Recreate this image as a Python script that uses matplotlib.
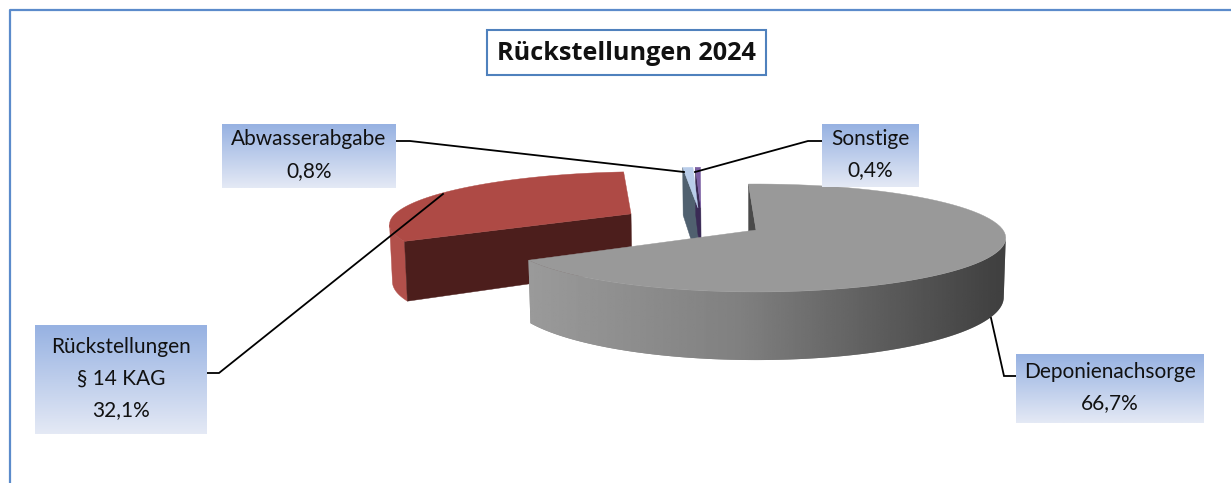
import numpy as np
import matplotlib
matplotlib.use('Agg')
import matplotlib.pyplot as plt
from matplotlib.patches import Rectangle, Polygon

categories = ['Deponienachsorge', 'Rückstellungen\n§ 14 KAG', 'Abwasserabgabe', 'Sonstige']
percent = [66.7, 32.1, 0.8, 0.4]
percent_labels = ['66,7%', '32,1%', '0,8%', '0,4%']
title = 'Rückstellungen 2024'

# offset of every slice on the pie plane (1 = radius)
explode = [(0, 0), (-0.53, 0.32), (-0.25, 0.443), (-0.238, 0.443)]
start_angle = 92
cx, cy = 756, 230
radius = 247
tilt = 52.8
height = 58
persp = 0.148
persp_z = 0.008

label_font = 'Lato'
blue_top = np.array([0x97, 0xb2, 0xe2]) / 255
blue_bot = np.array([0xe4, 0xe9, 0xf5]) / 255


def project(X, Y, Z=0):
    w = 1 + persp * Y
    return cx + radius * X / (w + persp_z * Z), cy - tilt * Y / w + height * Z / w


def arc(off, t0, t1, Z=0, n=80):
    t = np.radians(np.linspace(t0, t1, n))
    return project(off[0] + np.cos(t), off[1] + np.sin(t), Z)


def top_face(off, t0, t1, color, z):
    x, y = arc(off, t0, t1)
    ax0, ay0 = project(off[0], off[1])
    ax.fill(np.r_[ax0, x], np.r_[ay0, y], color=color, lw=0.3, zorder=z)


def cut_face(off, t, color, z):
    xa, ya = project(off[0], off[1])
    xb, yb = project(off[0], off[1], 1)
    x1, y1 = arc(off, t, t, n=1)
    x2, y2 = arc(off, t, t, 1, n=1)
    ax.fill([xa, x1[0], x2[0], xb], [ya, y1[0], y2[0], yb], color=color, lw=0.3, zorder=z)


def wall_outline(off, t0, t1, pick):
    # rim from t0 up to the point where it turns away from the viewer
    xt, yt = arc(off, t0, t1, 0, 400)
    xb, yb = arc(off, t0, t1, 1, 400)
    end = pick(xt) + 1
    return np.r_[xt[:end], xb[:end][::-1]], np.r_[yt[:end], yb[:end][::-1]]


def outer_wall(off, t0, t1, color, z):
    x, y = wall_outline(off, t0, t1, np.argmin)
    ax.fill(x, y, color=color, lw=0.3, zorder=z)


def grey_wall(off, t0, t1, z):
    x, y = wall_outline(off, t0, t1, np.argmax)
    # plain fill below the gradient so no seam shows along the clipped edge
    ax.fill(x, y, color='#8c8c8c', lw=0, zorder=z - 0.1)
    xs = np.linspace(500, 1030, 256)
    ramp = np.interp(xs, [530, 740, 900, 1000], [0x9a, 0x80, 0x58, 0x40]) / 255
    im = ax.imshow(ramp[None, :], extent=(500, 1030, 380, 200), aspect='auto', cmap='gray',
                   vmin=0, vmax=1, zorder=z)
    im.set_clip_path(Polygon(np.c_[x, y], transform=ax.transData))


def label_box(x0, y0, x1, y1, lines):
    grad = np.linspace(0, 1, 64)[:, None, None] * (blue_bot - blue_top) + blue_top
    ax.imshow(grad, extent=(x0, x1, y1, y0), aspect='auto', zorder=6, interpolation='bilinear')
    ax.text((x0 + x1) / 2, (y0 + y1) / 2 - 1, lines, ha='center', va='center', fontsize=15,
            family=label_font, color='#111111', linespacing=1.7, zorder=7)


fig = plt.figure(figsize=(12.31, 4.83), dpi=100)
ax = fig.add_axes([0, 0, 1, 1])
ax.set_xlim(0, 1231)
ax.set_ylim(483, 0)
ax.axis('off')

# chart frame, runs off the picture on the right and at the bottom
ax.plot([9.5, 9.5, 1231], [483, 9.5, 9.5], color='#5b8bcb', lw=1.6, zorder=1)

edges = start_angle - np.cumsum(np.r_[0, np.array(percent)]) * 3.6

# small slices at the back
top_face(explode[2], edges[3], edges[2], '#b9cdea', 3)
cut_face(explode[2], edges[2], '#50606f', 2)
top_face(explode[3], edges[4], edges[3], '#7a5ea2', 3)
cut_face(explode[3], edges[3], '#3a2a55', 2.5)

# red slice
outer_wall(explode[1], edges[1], edges[2], '#b2504b', 3)
cut_face(explode[1], edges[1], '#4c1e1c', 3.5)
top_face(explode[1], edges[2], edges[1], '#ae4a45', 4)

# grey slice
cut_face(explode[0], edges[0], '#4a4a4a', 4.2)
grey_wall(explode[0], edges[1], edges[0], 4.4)
top_face(explode[0], edges[1], edges[0], '#999999', 4.6)

# leader lines
leaders = [([396, 410, 684], [141, 141, 172]),
           ([822, 808, 695], [141, 141, 172]),
           ([207, 219, 443], [373, 373, 194]),
           ([1016, 1004, 991], [376, 376, 318])]
for lx, ly in leaders:
    ax.plot(lx, ly, color='black', lw=1.3, zorder=5, solid_joinstyle='miter')

label_box(222, 124, 396, 188, categories[2] + '\n' + percent_labels[2])
label_box(822, 124, 919, 187, categories[3] + '\n' + percent_labels[3])
label_box(35, 325, 207, 434, categories[1] + '\n' + percent_labels[1])
label_box(1016, 354, 1204, 423, categories[0] + '\n' + percent_labels[0])

ax.add_patch(Rectangle((487, 30), 279, 45, fc='white', ec='#4f81bd', lw=1.5, zorder=6))
ax.text(626.5, 54, title, ha='center', va='center', fontsize=18.2, family='Open Sans',
        weight='bold', color='#111111', zorder=7)

ax.set_xlim(0, 1231)
ax.set_ylim(483, 0)
plt.savefig('out.png', dpi=100)
